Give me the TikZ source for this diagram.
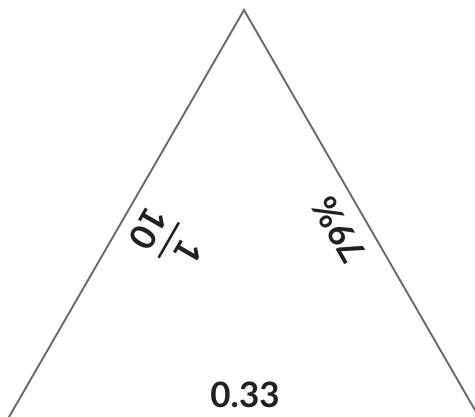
\documentclass[tikz,border=0pt]{standalone}
\usepackage{fontspec}
\setmainfont{Lato}
\usetikzlibrary{positioning}
\newcommand\stackfrac[2]{\setbox0\hbox{#2}%
  \vbox{\hbox to\wd0{\hss#1\hss}\kern9pt\hrule height2.5pt\kern9pt\box0}}

\begin{document}
\begin{tikzpicture}[x=1pt,y=-1pt,
   side/.style={draw=black!58,line width=1.9pt},
   lbl/.style={inner sep=0pt,text=black!87,
     font=\fontsize{35}{42}\selectfont\bfseries}]
  \useasboundingbox (0,0) rectangle (475,416);
  \clip (0,0) rectangle (475,416);
  % triangle, base lies below the frame
  \coordinate (top) at (244,10);
  \coordinate (bl) at (-4.3,440);
  \coordinate (br) at (492.3,440);
  \draw[side] (bl)--(top)--(br)--cycle;
  % labels along the sides
  \node[lbl,rotate=-120] (frac) at (168.5,240) {\stackfrac{1}{10}};
  \node[lbl,rotate=120] (pct) at (339,230) {79\%};
  \node[lbl] (base) at (245,395) {0.33};
\end{tikzpicture}
\end{document}
